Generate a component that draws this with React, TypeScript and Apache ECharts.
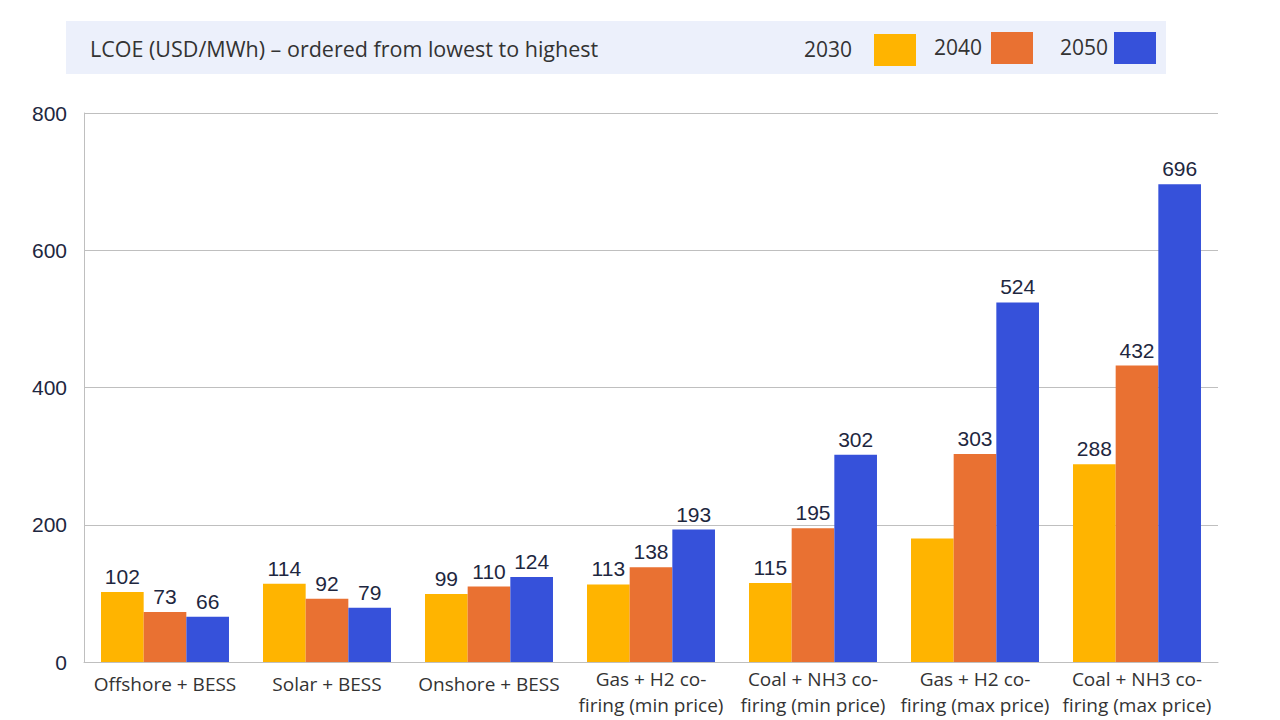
import React, { useEffect, useRef } from "react";
import * as echarts from "echarts";

const categories = [
  "Offshore + BESS",
  "Solar + BESS",
  "Onshore + BESS",
  "Gas + H2 co-\nfiring (min price)",
  "Coal + NH3 co-\nfiring (min price)",
  "Gas + H2 co-\nfiring (max price)",
  "Coal + NH3 co-\nfiring (max price)",
];
const seriesNames = ["2030", "2040", "2050"];
const values2030 = [102, 114, 99, 113, 115, 180, 288];
const values2040 = [73, 92, 110, 138, 195, 303, 432];
const values2050 = [66, 79, 124, 193, 302, 524, 696];
const hiddenLabels2030 = [5]; // index with no value label
const yTicks = { min: 0, max: 800, interval: 200 };
const title = "LCOE (USD/MWh) \u2013 ordered from lowest to highest";

const COLORS = ["#FFB400", "#E97132", "#3651DA"];
const LABEL_COLOR = "#1E2740";
const CAT_FONT = "'Open Sans', sans-serif";
const NUM_FONT = "'Liberation Sans', Arial, sans-serif";

export default function App() {
  const ref = useRef<HTMLDivElement>(null);
  useEffect(() => {
    if (!ref.current) return;
    const chart = echarts.init(ref.current, undefined, { renderer: "svg" });
    const all = [values2030, values2040, values2050];
    const series = all.map((vals, si) => ({
      name: seriesNames[si],
      type: "bar",
      barGap: "0%",
      barCategoryGap: "21%",
      itemStyle: { color: COLORS[si] },
      label: {
        show: true,
        position: "top",
        distance: 5,
        color: LABEL_COLOR,
        fontFamily: NUM_FONT,
        fontSize: 21,
      },
      data: vals.map((v, i) =>
        si === 0 && hiddenLabels2030.includes(i)
          ? { value: v, label: { show: false } }
          : v
      ),
    }));

    const legendItems = [
      { text: "2030", tx: 852, ty: 49, rx: 874, ry: 34 },
      { text: "2040", tx: 982, ty: 47, rx: 991, ry: 32 },
      { text: "2050", tx: 1108, ty: 47, rx: 1114, ry: 32 },
    ];
    const graphics: any[] = [
      {
        type: "rect",
        shape: { x: 66, y: 21, width: 1100, height: 53 },
        style: { fill: "#ECF0FB" },
        z: 0,
      },
      {
        type: "text",
        x: 90,
        y: 48,
        style: {
          text: title,
          fontFamily: CAT_FONT,
          fontSize: 21.5,
          fill: "#333333",
          verticalAlign: "middle",
          align: "left",
        },
        z: 1,
      },
    ];
    legendItems.forEach((it, i) => {
      graphics.push({
        type: "text",
        x: it.tx,
        y: it.ty,
        style: {
          text: it.text,
          fontFamily: CAT_FONT,
          fontSize: 21,
          fill: "#333333",
          align: "right",
          verticalAlign: "middle",
        },
        z: 1,
      });
      graphics.push({
        type: "rect",
        shape: { x: it.rx, y: it.ry, width: 42, height: 32 },
        style: { fill: COLORS[i] },
        z: 1,
      });
    });

    const catStyle = {
      color: "#333333",
      fontFamily: CAT_FONT,
      fontSize: 19,
      lineHeight: 26,
    };

    chart.setOption({
      animation: false,
      backgroundColor: "#FFFFFF",
      grid: { left: 84, right: 62, top: 113, bottom: 58, containLabel: false },
      graphic: graphics,
      xAxis: {
        type: "category",
        data: categories,
        axisLine: { show: true, lineStyle: { color: "#BFBFBF", width: 1 } },
        axisTick: { show: false },
        axisLabel: {
          interval: 0,
          ...catStyle,
          margin: 4,
          formatter: (v: string) =>
            v.includes("\n") ? v : "{s|" + v + "}",
          rich: {
            s: { ...catStyle, padding: [10, 0, 0, 0] },
          },
        },
      },
      yAxis: {
        type: "value",
        min: yTicks.min,
        max: yTicks.max,
        interval: yTicks.interval,
        axisLine: { show: true, lineStyle: { color: "#BFBFBF", width: 1 } },
        axisTick: { show: false },
        splitLine: { show: true, lineStyle: { color: "#BFBFBF", width: 1 } },
        axisLabel: {
          color: LABEL_COLOR,
          fontFamily: NUM_FONT,
          fontSize: 21,
          margin: 17,
        },
      },
      series,
    });
    return () => chart.dispose();
  }, []);
  return (
    <div
      ref={ref}
      style={{ position: "absolute", left: 0, top: 0, width: 1280, height: 720 }}
    />
  );
}
